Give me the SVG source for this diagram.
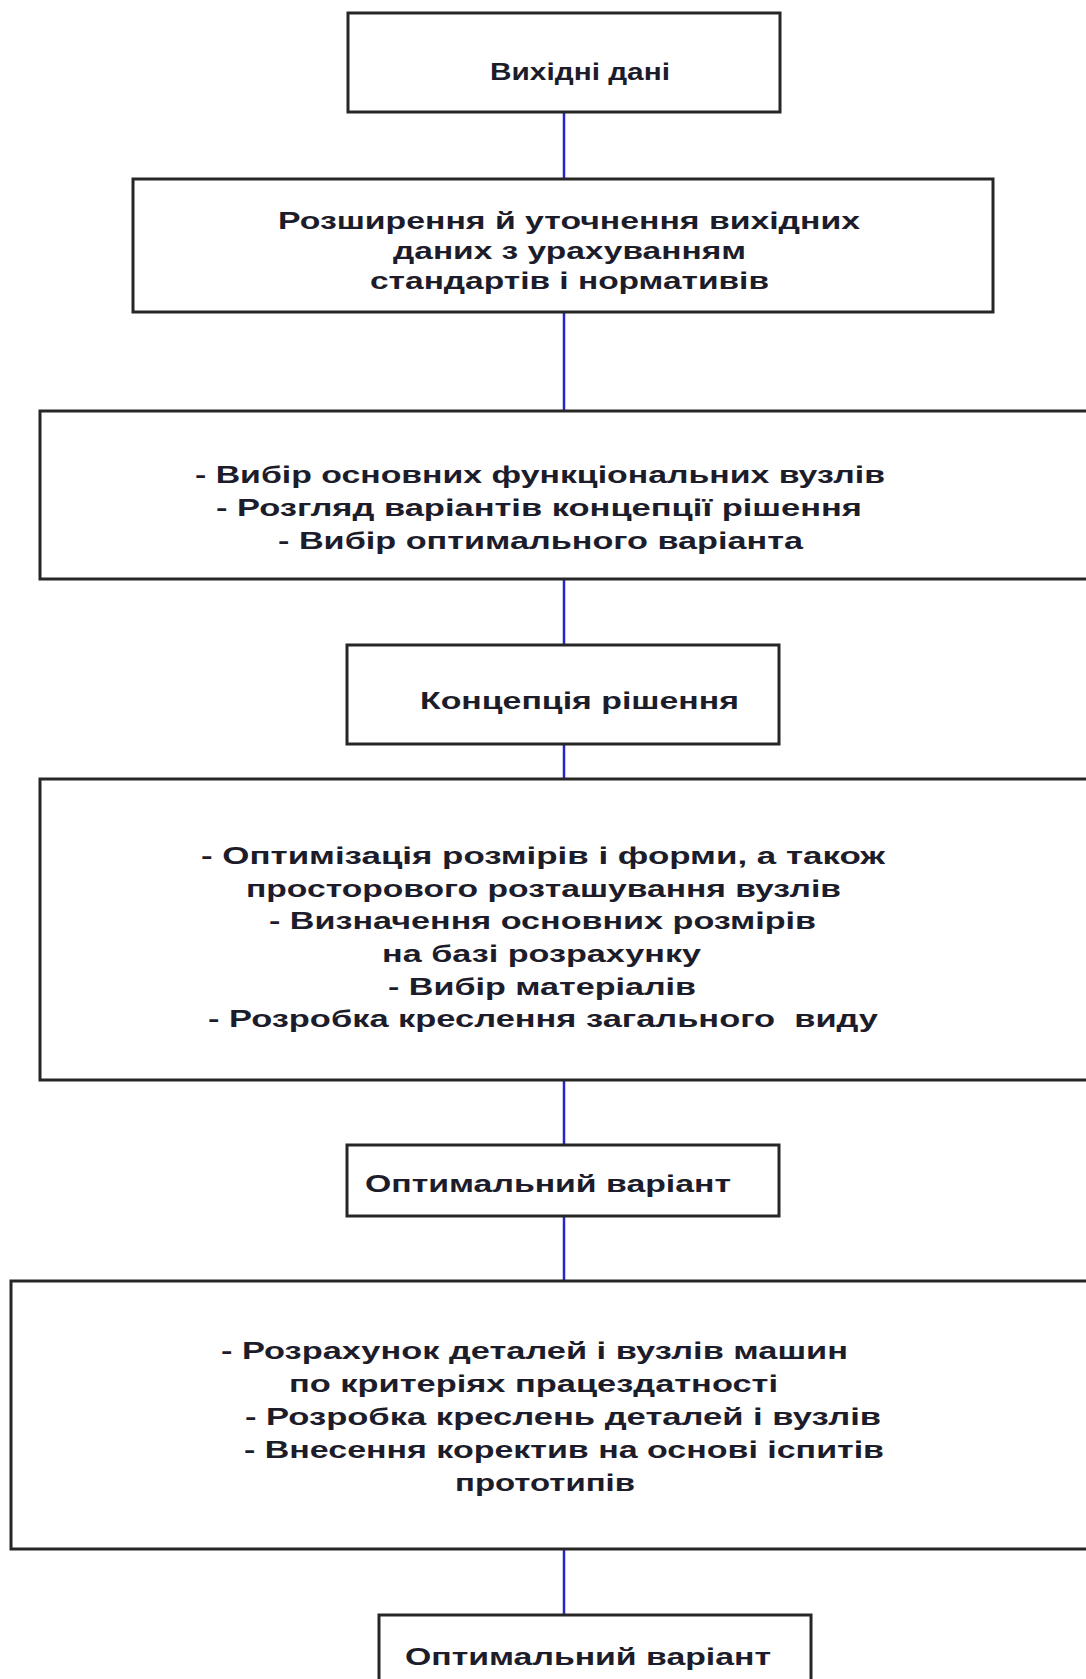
<svg xmlns="http://www.w3.org/2000/svg" width="1086" height="1679" viewBox="0 0 1086 1679">
<style>
.box{fill:#ffffff;stroke:#262626;stroke-width:3}
.t{font-family:"Liberation Sans",Arial,sans-serif;font-weight:bold;font-size:23px;fill:#1c1c2a}
.c{stroke:#2626c8;stroke-width:2.5;fill:none}
</style>
<rect width="1086" height="1679" fill="#ffffff"/>
<g id="connectors">
<line class="c" x1="564" y1="112" x2="564" y2="178"/>
<line class="c" x1="564" y1="312" x2="564" y2="411"/>
<line class="c" x1="564" y1="579" x2="564" y2="645"/>
<line class="c" x1="564" y1="744" x2="564" y2="779"/>
<line class="c" x1="564" y1="1080" x2="564" y2="1145"/>
<line class="c" x1="564" y1="1216" x2="564" y2="1281"/>
<line class="c" x1="564" y1="1549" x2="564" y2="1615"/>
</g>
<g id="n1">
<rect class="box" x="348" y="13" width="432" height="99"/>
<text class="t" x="490" y="80" textLength="180" lengthAdjust="spacingAndGlyphs">Вихідні дані</text>
</g>
<g id="n2">
<rect class="box" x="133" y="179" width="860" height="133"/>
<text class="t" x="278" y="229" textLength="582" lengthAdjust="spacingAndGlyphs">Розширення й уточнення вихідних</text>
<text class="t" x="393" y="259" textLength="353" lengthAdjust="spacingAndGlyphs">даних з урахуванням</text>
<text class="t" x="370" y="289" textLength="399" lengthAdjust="spacingAndGlyphs">стандартів і нормативів</text>
</g>
<g id="n3">
<rect class="box" x="40" y="411" width="1050" height="168"/>
<text class="t" x="195" y="483" textLength="690" lengthAdjust="spacingAndGlyphs">- Вибір основних функціональних вузлів</text>
<text class="t" x="216" y="516" textLength="646" lengthAdjust="spacingAndGlyphs">- Розгляд варіантів концепції рішення</text>
<text class="t" x="278" y="549" textLength="525" lengthAdjust="spacingAndGlyphs">- Вибір оптимального варіанта</text>
</g>
<g id="n4">
<rect class="box" x="347" y="645" width="432" height="99"/>
<text class="t" x="420" y="709" textLength="319" lengthAdjust="spacingAndGlyphs">Концепція рішення</text>
</g>
<g id="n5">
<rect class="box" x="40" y="779" width="1050" height="301"/>
<text class="t" x="201" y="864" textLength="684" lengthAdjust="spacingAndGlyphs">- Оптимізація розмірів і форми, а також</text>
<text class="t" x="246" y="897" textLength="595" lengthAdjust="spacingAndGlyphs">просторового розташування вузлів</text>
<text class="t" x="269" y="929" textLength="547" lengthAdjust="spacingAndGlyphs">- Визначення основних розмірів</text>
<text class="t" x="382" y="962" textLength="319" lengthAdjust="spacingAndGlyphs">на базі розрахунку</text>
<text class="t" x="388" y="995" textLength="308" lengthAdjust="spacingAndGlyphs">- Вибір матеріалів</text>
<text class="t" x="208" y="1027" textLength="670" lengthAdjust="spacingAndGlyphs" xml:space="preserve">- Розробка креслення загального  виду</text>
</g>
<g id="n6">
<rect class="box" x="347" y="1145" width="432" height="71"/>
<text class="t" x="365" y="1192" textLength="366" lengthAdjust="spacingAndGlyphs">Оптимальний варіант</text>
</g>
<g id="n7">
<rect class="box" x="11" y="1281" width="1080" height="268"/>
<text class="t" x="221" y="1359" textLength="627" lengthAdjust="spacingAndGlyphs">- Розрахунок деталей і вузлів машин</text>
<text class="t" x="289" y="1392" textLength="489" lengthAdjust="spacingAndGlyphs">по критеріях працездатності</text>
<text class="t" x="245" y="1425" textLength="636" lengthAdjust="spacingAndGlyphs">- Розробка креслень деталей і вузлів</text>
<text class="t" x="244" y="1458" textLength="640" lengthAdjust="spacingAndGlyphs">- Внесення коректив на основі іспитів</text>
<text class="t" x="455" y="1491" textLength="180" lengthAdjust="spacingAndGlyphs">прототипів</text>
</g>
<g id="n8">
<rect class="box" x="379" y="1615" width="432" height="80"/>
<text class="t" x="405" y="1665" textLength="366" lengthAdjust="spacingAndGlyphs">Оптимальний варіант</text>
</g>
</svg>
